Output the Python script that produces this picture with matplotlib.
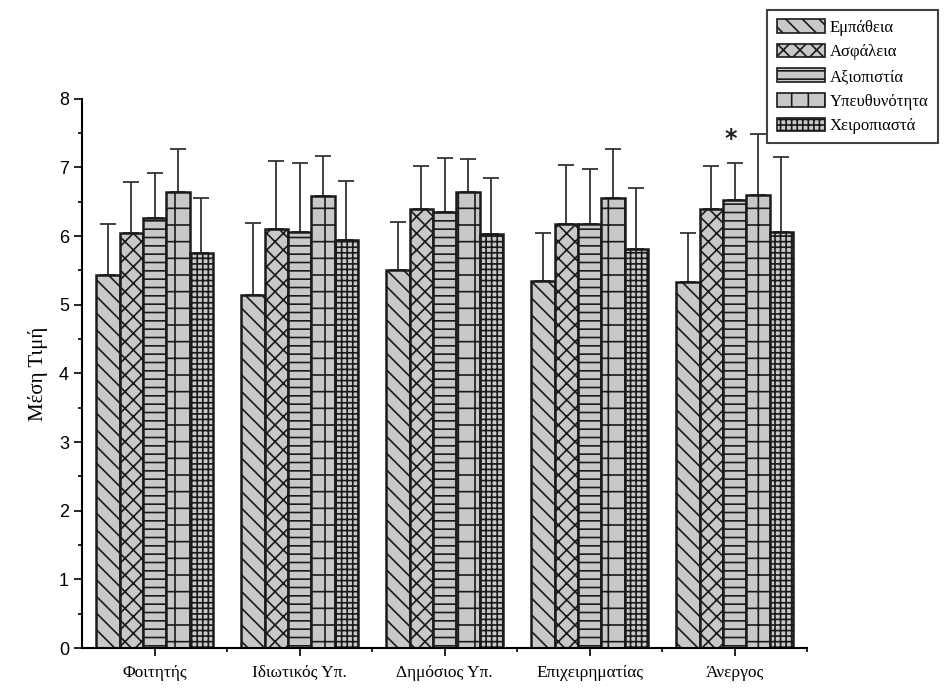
import numpy as np
import matplotlib.pyplot as plt
from matplotlib.patches import Patch

plt.rcParams['hatch.linewidth'] = 1.2

categories = ['Φοιτητής', 'Ιδιωτικός Υπ.', 'Δημόσιος Υπ.', 'Επιχειρηματίας', 'Άνεργος']
series = ['Εμπάθεια', 'Ασφάλεια', 'Αξιοπιστία', 'Υπευθυνότητα', 'Χειροπιαστά']
hatches = ['\\\\', 'xx', '--', '+', '+++']

empatheia = [5.43, 5.14, 5.50, 5.34, 5.33]
asfaleia = [6.05, 6.11, 6.39, 6.17, 6.40]
axiopistia = [6.26, 6.06, 6.35, 6.17, 6.52]
ypeuthynotita = [6.64, 6.58, 6.64, 6.56, 6.60]
xeiropiasta = [5.75, 5.94, 6.03, 5.81, 6.06]

# upper end of each error bar
empatheia_err = [6.17, 6.19, 6.20, 6.05, 6.05]
asfaleia_err = [6.79, 7.10, 7.02, 7.04, 7.02]
axiopistia_err = [6.92, 7.06, 7.14, 6.98, 7.06]
ypeuthynotita_err = [7.27, 7.16, 7.12, 7.27, 7.49]
xeiropiasta_err = [6.55, 6.81, 6.84, 6.70, 7.15]

values = [empatheia, asfaleia, axiopistia, ypeuthynotita, xeiropiasta]
tops = [empatheia_err, asfaleia_err, axiopistia_err, ypeuthynotita_err, xeiropiasta_err]

fig = plt.figure(figsize=(9.44, 6.91), dpi=100)
ax = fig.add_axes([0.087, 0.062, 0.768, 0.795])

x = np.arange(len(categories))
w = 0.161
face = '#c8c8c8'
for i, (vals, top) in enumerate(zip(values, tops)):
    pos = x + (i - 2) * w
    vals = np.array(vals)
    up = np.array(top) - vals
    ax.errorbar(pos, vals, yerr=[np.zeros_like(up), up], fmt='none',
                ecolor='#333333', elinewidth=1.3, capsize=6, capthick=1.3, zorder=1)
    ax.bar(pos, vals, w, color=face, edgecolor='#1a1a1a', linewidth=1.8,
           hatch=hatches[i], zorder=2)

# significance marker
ax.text(x[4] - 0.03, 7.42, '*', ha='center', va='center', fontsize=17,
        fontweight='bold', family='DejaVu Sans', color='#222222')

ax.set_xlim(-0.5, 4.5)
ax.set_ylim(0, 8)
ax.set_xticks(x)
ax.set_xticklabels(categories, family='Liberation Serif', fontsize=12.5)
ax.set_xticks(np.arange(0.5, 5, 1), minor=True)
ax.set_yticks(np.arange(0, 9, 1))
ax.set_yticks(np.arange(0.5, 8, 1), minor=True)
ax.tick_params(axis='y', labelsize=13, direction='out', length=6, width=1.2)
ax.tick_params(axis='x', direction='out', length=6, width=1.2, pad=6)
ax.tick_params(which='minor', length=3, width=1.2)
for lab in ax.get_yticklabels():
    lab.set_family('Liberation Sans')
ax.set_ylabel('Μέση Τιμή', family='Liberation Serif', fontsize=15, labelpad=8)
ax.spines['top'].set_visible(False)
ax.spines['right'].set_visible(False)
ax.spines['left'].set_linewidth(1.5)
ax.spines['bottom'].set_linewidth(1.5)

handles = [Patch(facecolor=face, edgecolor='#1a1a1a', hatch=h, linewidth=1.2) for h in hatches]
leg = fig.legend(handles, series, loc='upper left', bbox_to_anchor=(0.813, 0.986),
                 prop={'family': 'Liberation Serif', 'size': 12}, frameon=True,
                 fancybox=False, edgecolor='#111111', handlelength=2.9, handleheight=0.9,
                 handletextpad=0.3, labelspacing=0.48, borderpad=0.55, borderaxespad=0)
leg.get_frame().set_linewidth(1.5)

fig.savefig('out.png', dpi=100)
